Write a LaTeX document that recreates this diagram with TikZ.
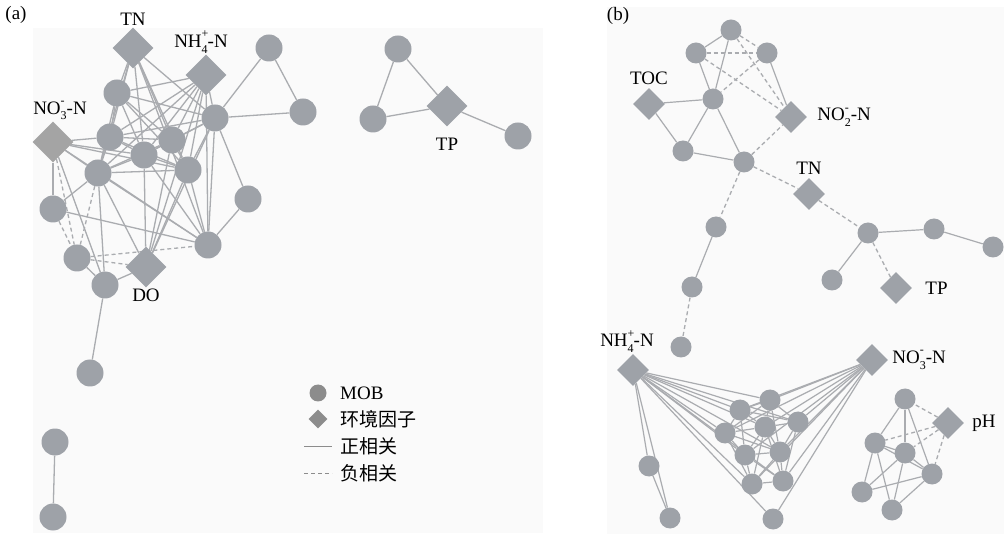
\documentclass[tikz,border=0pt]{standalone}
\usepackage{fontspec}
\setmainfont{Liberation Serif}
\newfontfamily\cjk{Noto Sans CJK SC}
\usetikzlibrary{shapes.geometric,backgrounds,positioning}

\definecolor{mobgray}{RGB}{158,162,168}
\definecolor{envgray}{RGB}{164,164,164}
\definecolor{edgegray}{RGB}{170,172,176}
\definecolor{panelbg}{RGB}{250,250,250}
\definecolor{keygray}{RGB}{140,140,140}

\newcommand{\ionlbl}[2]{\rlap{\raisebox{0.5em}{\fontsize{12}{12}\selectfont #2}}\raisebox{-0.3em}{\fontsize{12}{12}\selectfont #1}}

\begin{document}
\begin{tikzpicture}[x=1pt,y=-1pt,
    mob/.style={circle,fill=mobgray,inner sep=0pt,minimum size=27pt},
    env/.style={diamond,fill=mobgray,inner sep=0pt,minimum size=41pt},
    lbl/.style={inner sep=1pt,font=\fontsize{19}{22}\selectfont},
    posline/.style={draw=edgegray,line width=1.3pt},
    negline/.style={posline,dash pattern=on 4pt off 3pt}]
  \useasboundingbox (0,0) rectangle (1004,534);
  \begin{scope}[on background layer]
    \fill[panelbg] (33,28) rectangle (543,533);
    \fill[panelbg] (607,7) rectangle (1004,534);
  \end{scope}
  \node[lbl] (tagA) at (16,15) {(a)};
  \node[lbl] (tagB) at (618,16) {(b)};

  % (a)
  \begin{scope}[every node/.style={mob}]
    \node (aTN)[env] at (133,48) {};
    \node (aNH)[env] at (206,75) {};
    \node (aNO)[env,fill=envgray] at (53,142) {};
    \node (aDO)[env] at (146,267) {};
    \node (aTP)[env] at (447,106) {};
    \node (a1) at (117,93) {};
    \node (a2) at (215,118) {};
    \node (a3) at (110,137) {};
    \node (a4) at (172,140) {};
    \node (a5) at (144,155) {};
    \node (a6) at (98,173) {};
    \node (a7) at (188,170) {};
    \node (a8) at (53,209) {};
    \node (a9) at (248,199) {};
    \node (a10) at (208,245) {};
    \node (a11) at (77,258) {};
    \node (a12) at (105,285) {};
    \node (a13) at (90,373) {};
    \node (a14) at (55,442) {};
    \node (a15) at (53,517) {};
    \node (a16) at (269,48) {};
    \node (a17) at (303,112) {};
    \node (a18) at (398,49) {};
    \node (a19) at (373,119) {};
    \node (a20) at (518,136) {};
  \end{scope}
  \begin{scope}[every node/.style={lbl}]
    \node (aTNl) [above=1pt of aTN] {TN};
    \node (aNHl) [above=0pt of aNH,xshift=-5pt] {NH\ionlbl{4}{+}-N};
    \node (aNOl) [above=0pt of aNO,xshift=7pt] {NO\ionlbl{3}{-}-N};
    \node (aDOl) [below=0pt of aDO] {DO};
    \node (aTPl) [below=10pt of aTP] {TP};
  \end{scope}
  \begin{scope}[on background layer,every edge/.style={posline}]
    \path (a16) edge (a17) edge (a2);
    \path (a2) edge (a17) edge (a9) edge (a10) edge (aDO);
    \path (a9) edge (a10);
    \path (a12) edge (a13) edge (aDO);
    \path (a14) edge (a15);
    \path (aTP) edge (a18) edge (a19) edge (a20);
    \path (a18) edge (a19);
    \path (aTN) edge (a1) edge (a3) edge (a4) edge (a5) edge (a7) edge (a2) edge (a10) edge (a6);
    \path (aNH) edge (a1) edge (a3) edge (a4) edge (a5) edge (a6) edge (a2) edge (a7) edge (a10) edge (aDO);
    \path (a1) edge (a3) edge (a4) edge (a2) edge (a5) edge (a7) edge (a6);
    \path (a3) edge (a4) edge (a5) edge (a2) edge (a7) edge (a6);
    \path (a4) edge (a5) edge (a2) edge (a7) edge (a6) edge (aDO);
    \path (a5) edge (a6) edge (a7) edge (a2) edge (aDO) edge (a10);
    \path (a6) edge (a7) edge (a8) edge (a10) edge (aDO) edge (a12);
    \path (a7) edge (a2) edge (a10) edge (aDO);
    \path (aNO) edge (a3) edge (a5) edge (a6) edge (a7) edge (a8) edge (a12) edge (a10);
    \path (a8) edge (a10);
    \path (a11) edge (a12);
    \path (a6) edge[negline] (a11);
    \path (aNO) edge[negline] (a11);
    \path (a8) edge[negline] (a11);
    \path (a11) edge[negline] (aDO) edge[negline] (a10);
  \end{scope}

  % legend
  \node (keyMOB)[circle,fill=keygray,minimum size=17pt,inner sep=0pt] at (318,393) {};
  \node (keyEnv)[diamond,fill=keygray,minimum size=19pt,inner sep=0pt] at (318,419) {};
  \coordinate (keyPa) at (304,446);
  \coordinate (keyPb) at (332,446);
  \coordinate (keyNa) at (304,473);
  \coordinate (keyNb) at (332,473);
  \draw[draw=keygray,line width=1pt] (keyPa) -- (keyPb);
  \draw[draw=keygray,line width=1pt,dash pattern=on 4pt off 3pt] (keyNa) -- (keyNb);
  \begin{scope}[every node/.style={lbl,anchor=west}]
    \node (keyMOBl) at (339,393) {MOB};
    \node (keyEnvl) at (339,419) {\cjk 环境因子};
    \node (keyPl) at (339,446) {\cjk 正相关};
    \node (keyNl) at (339,473) {\cjk 负相关};
  \end{scope}

  % (b)
  \begin{scope}[every node/.style={mob,minimum size=21pt}]
    \node (bTOC)[env,minimum size=32pt] at (649,104) {};
    \node (bNO2)[env,minimum size=32pt] at (791,117) {};
    \node (bTN)[env,minimum size=32pt] at (809,194) {};
    \node (bTP)[env,minimum size=32pt] at (896,288) {};
    \node (bNH)[env,minimum size=32pt] at (633,370) {};
    \node (bNO3)[env,minimum size=32pt] at (872,360) {};
    \node (bpH)[env,minimum size=32pt] at (948,423) {};
    \node (b1) at (731,30) {};
    \node (b2) at (696,53) {};
    \node (b3) at (767,53) {};
    \node (b4) at (713,99) {};
    \node (b5) at (683,151) {};
    \node (b6) at (744,162) {};
    \node (b7) at (716,227) {};
    \node (b8) at (868,233) {};
    \node (b9) at (934,229) {};
    \node (b10) at (993,247) {};
    \node (b11) at (832,280) {};
    \node (b12) at (692,287) {};
    \node (b13) at (681,347) {};
    \node (d1) at (770,400) {};
    \node (d2) at (740,410) {};
    \node (d3) at (798,422) {};
    \node (d4) at (765,427) {};
    \node (d5) at (725,433) {};
    \node (d6) at (745,455) {};
    \node (d7) at (780,452) {};
    \node (d8) at (752,484) {};
    \node (d9) at (783,481) {};
    \node (d10) at (649,466) {};
    \node (d11) at (670,518) {};
    \node (d12) at (773,519) {};
    \node (e1) at (905,399) {};
    \node (e2) at (875,443) {};
    \node (e3) at (905,453) {};
    \node (e4) at (932,474) {};
    \node (e5) at (862,492) {};
    \node (e6) at (892,510) {};
  \end{scope}
  \begin{scope}[every node/.style={lbl}]
    \node (bTOCl) [above=2pt of bTOC] {TOC};
    \node (bNO2l) [right=9pt of bNO2] {NO\ionlbl{2}{-}-N};
    \node (bTNl) [above=2pt of bTN] {TN};
    \node (bTPl) [right=12pt of bTP] {TP};
    \node (bNHl) [above=0pt of bNH,xshift=-6pt] {NH\ionlbl{4}{+}-N};
    \node (bNO3l) [right=3pt of bNO3] {NO\ionlbl{3}{-}-N};
    \node (bpHl) [right=7pt of bpH] {pH};
  \end{scope}
  \begin{scope}[on background layer,every edge/.style={posline,line width=1.2pt}]
    \path (b1) edge (b2) edge (b4);
    \path (b2) edge (b4);
    \path (b3) edge (bNO2);
    \path (bTOC) edge (b4) edge (b5);
    \path (b4) edge (b5) edge (b6);
    \path (b5) edge (b6);
    \path (b8) edge (b9) edge (b11);
    \path (b9) edge (b10);
    \path (b7) edge (b12);
    \path (b1) edge[negline] (b3) edge[negline] (bNO2);
    \path (b2) edge[negline] (b3) edge[negline] (bNO2);
    \path (b3) edge[negline] (b4);
    \path (b6) edge[negline] (bNO2) edge[negline] (bTN) edge[negline] (b7);
    \path (bTN) edge[negline] (b8);
    \path (b8) edge[negline] (bTP);
    \path (b12) edge[negline] (b13);
    \path (bNH) edge (d1) edge (d2) edge (d3) edge (d4) edge (d5) edge (d6) edge (d7) edge (d8) edge (d9) edge (d10) edge (d11) edge (d12);
    \path (bNO3) edge (d1) edge (d2) edge (d3) edge (d4) edge (d5) edge (d6) edge (d7) edge (d8) edge (d9) edge (d12);
    \path (d1) edge (d2) edge (d3) edge (d4) edge (d5) edge (d7);
    \path (d2) edge (d3) edge (d4) edge (d5) edge (d6);
    \path (d3) edge (d4) edge (d7) edge (d9);
    \path (d4) edge (d5) edge (d6) edge (d7) edge (d8) edge (d9);
    \path (d5) edge (d6) edge (d7) edge (d8);
    \path (d6) edge (d7) edge (d8) edge (d9);
    \path (d7) edge (d8) edge (d9);
    \path (d8) edge (d9);
    \path (d10) edge (d11);
    \path (e1) edge (e2) edge (e3) edge (e4);
    \path (e2) edge (e3) edge (e4) edge (e5) edge (e6);
    \path (e3) edge (e4) edge (e5) edge (e6);
    \path (e4) edge (e5) edge (e6);
    \path (bpH) edge[negline] (e1) edge[negline] (e2) edge[negline] (e3) edge[negline] (e4);
  \end{scope}
\end{tikzpicture}
\end{document}
